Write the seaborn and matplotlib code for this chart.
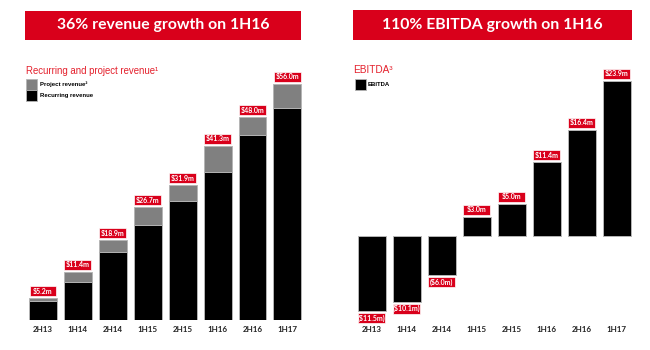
"""
Revenue and EBITDA half-year bars, two panels with red banners.
"""

import matplotlib
matplotlib.use("Agg")

import pandas as pd
import seaborn as sns
import matplotlib.pyplot as plt
from matplotlib.patches import Rectangle

# --- Data ---
periods = ["2H13", "1H14", "2H14", "1H15", "2H15", "1H16", "2H16", "1H17"]
total_revenue = [5.2, 11.4, 18.9, 26.7, 31.9, 41.3, 48.0, 56.0]
recurring_revenue = [4.6, 8.9, 16.2, 22.6, 28.2, 35.0, 43.8, 50.3]
revenue_labels = ["$5.2m", "$11.4m", "$18.9m", "$26.7m", "$31.9m", "$41.3m", "$48.0m", "$56.0m"]
ebitda = [-11.5, -10.1, -6.0, 3.0, 5.0, 11.4, 16.4, 23.9]
ebitda_labels = ["($11.5m)", "($10.1m)", "($6.0m)", "$3.0m", "$5.0m", "$11.4m", "$16.4m", "$23.9m"]

rev_df = pd.DataFrame({"Period": periods, "Total": total_revenue, "Recurring": recurring_revenue})
ebitda_df = pd.DataFrame({"Period": periods, "EBITDA": ebitda})

RED = "#D9001B"
TITLE_RED = "#E4202C"
GREY = "#808080"
EDGE = "#b5b5b5"

sns.set_style("white")
plt.rcParams["font.family"] = ["Liberation Sans", "DejaVu Sans"]

W, H = 650, 350
fig = plt.figure(figsize=(6.5, 3.5), dpi=100)


def fx(px):
    return px / W


def fy(py):
    return 1 - py / H


def banner(x0, x1, y0, y1, text):
    fig.add_artist(Rectangle((fx(x0), fy(y1)), fx(x1) - fx(x0), fy(y0) - fy(y1),
                             transform=fig.transFigure, facecolor=RED, edgecolor="none"))
    fig.text(fx((x0 + x1) / 2), fy((y0 + y1) / 2), text, ha="center", va="center",
             color="white", fontsize=11.3, fontweight="bold", family=["Lato", "DejaVu Sans"])


def legend_item(x, y, color, text):
    fig.add_artist(Rectangle((fx(x), fy(y + 10.5)), fx(11), 10.5 / H, transform=fig.transFigure,
                             facecolor=color, edgecolor=EDGE, linewidth=0.6))
    fig.text(fx(x + 13.5), fy(y + 5.3), text, ha="left", va="center", fontsize=4.3,
             fontweight="bold", color="black")


def add_labels(ax, values, labels, ppu):
    h = 10 / ppu
    gap = 2 / ppu
    for i, (v, lab) in enumerate(zip(values, labels)):
        y0 = v + gap if v >= 0 else v - gap - h
        ax.add_patch(Rectangle((i - 0.385, y0), 0.77, h, facecolor=RED, edgecolor="white",
                               linewidth=0.5, clip_on=False, zorder=5))
        ax.text(i, y0 + h / 2, lab, ha="center", va="center", color="white", fontsize=5,
                fontweight="bold", family=["Lato", "DejaVu Sans"], clip_on=False, zorder=6)


def style_axes(ax):
    sns.despine(ax=ax, left=True, bottom=True)
    ax.set_yticks([])
    ax.set_xlabel("")
    ax.set_ylabel("")
    ax.tick_params(axis="x", length=0, pad=4, labelsize=5.8, labelcolor="#222222")
    for t in ax.get_xticklabels():
        t.set_fontweight("bold")
        t.set_family(["Lato", "DejaVu Sans"])


# --- Left panel: revenue ---
ax1 = fig.add_axes([fx(22), 30 / H, fx(286), 260 / H])
sns.barplot(data=rev_df, x="Period", y="Total", color=GREY, saturation=1,
            edgecolor=EDGE, linewidth=0.7, width=0.8, ax=ax1)
sns.barplot(data=rev_df, x="Period", y="Recurring", color="black", saturation=1,
            edgecolor=EDGE, linewidth=0.7, width=0.8, ax=ax1)
ax1.set_xlim(-0.6, 7.59)
ax1.set_ylim(0, 61.6)
style_axes(ax1)
add_labels(ax1, total_revenue, revenue_labels, 260 / 61.6)

# --- Right panel: EBITDA ---
ax2 = fig.add_axes([fx(350), 30 / H, fx(290), 260 / H])
sns.barplot(data=ebitda_df, x="Period", y="EBITDA", color="black", saturation=1,
            edgecolor=EDGE, linewidth=0.7, width=0.8, ax=ax2)
ax2.set_xlim(-0.62, 7.66)
ax2.set_ylim(-12.9, 27.1)
style_axes(ax2)
add_labels(ax2, ebitda, ebitda_labels, 260 / 40.0)

# --- Banners, subtitles, legends ---
banner(25, 301, 11, 40, "36% revenue growth on 1H16")
banner(353, 632, 10, 39.5, "110% EBITDA growth on 1H16")

fig.text(fx(26), fy(74), "Recurring and project revenue¹", ha="left", va="baseline",
         fontsize=6.9, color=TITLE_RED)
fig.text(fx(353), fy(73), "EBITDA³", ha="left", va="baseline", fontsize=7.2, color=TITLE_RED)

legend_item(26, 79, GREY, "Project revenue²")
legend_item(26, 90, "black", "Recurring revenue")
legend_item(354.5, 79, "black", "EBITDA")

plt.savefig("out.png", dpi=100)
